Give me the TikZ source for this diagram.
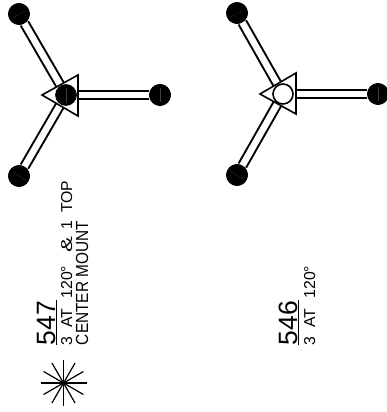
\documentclass[tikz,border=0pt]{standalone}
\usepackage{fontspec}
\setmainfont{Liberation Sans}
\newfontface\condfont[FakeStretch=0.88]{Liberation Sans}
\usetikzlibrary{calc}
\newcommand{\gapw}[1]{\hspace{#1pt}}
\begin{document}
\begin{tikzpicture}[x=1pt,y=-1pt,
  ball/.style={circle,fill=black,draw=black,line width=0.6pt,minimum size=21pt,inner sep=0pt},
  openball/.style={circle,fill=white,draw=black,line width=1.6pt,minimum size=20pt,inner sep=0pt},
  arm/.style={draw=black,line width=2pt,double=white,double distance=6.5pt},
  tri/.style={draw=black,fill=white,line width=1.6pt,line join=miter},
  seam/.style={draw=white!25!black,line width=0.2pt},
  rtext/.style={rotate=90,anchor=base west,inner sep=0pt,outer sep=0pt,text=black},
  bigtext/.style={rtext,font=\fontsize{26.5}{26.5}\selectfont},
  smalltext/.style={rtext,font=\fontsize{15.8}{16}\selectfont},
  condtext/.style={rtext,font=\condfont\fontsize{17.5}{18}\selectfont},
  rule/.style={draw=black,line width=1.3pt},
  spoke/.style={draw=black,line width=1.2pt}]
\useasboundingbox (0,0) rectangle (387,412);
% left assembly
\coordinate (hubA) at (66,95);
\node[ball] (a1) at (19,14) {};
\node[ball] (a2) at (160,95) {};
\node[ball] (a3) at (19,176) {};
\draw[arm] (hubA) -- (a1);
\draw[arm] (hubA) -- (a2);
\draw[arm] (hubA) -- (a3);
\node[ball] at (a1) {};
\node[ball] at (a2) {};
\node[ball] at (a3) {};
\draw[tri] (42,95) -- (78,75) -- (78,116) -- cycle;
\node[ball] (a0) at (hubA) {};
\draw[seam] (66,88) -- (66,103);
\draw[seam] (160,88) -- (160,102);
\draw[seam] (13,18) -- (25,11);
\draw[seam] (13,172) -- (25,180);
% right assembly
\coordinate (hubB) at (283,94);
\node[ball] (b1) at (237,13) {};
\node[ball] (b2) at (378,94) {};
\node[ball] (b3) at (237,175) {};
\draw[arm] (hubB) -- (b1);
\draw[arm] (hubB) -- (b2);
\draw[arm] (hubB) -- (b3);
\node[ball] at (b1) {};
\node[ball] at (b2) {};
\node[ball] at (b3) {};
\draw[tri] (260,94) -- (296,73) -- (296,114) -- cycle;
\node[openball] (b0) at (hubB) {};
\draw[seam] (378,87) -- (378,101);
\draw[seam] (231,17) -- (243,10);
\draw[seam] (231,171) -- (243,179);
% left labels
\node[bigtext] (t547) at (55,345) {547};
\coordinate (r1a) at (56.5,345);
\coordinate (r1b) at (56.5,300);
\draw[rule] (r1a) -- (r1b);
\node[smalltext] (t3at) at (72,345) {3\gapw{4} AT\gapw{6} 120°\gapw{9} \scalebox{1.5}[1]{\&}\gapw{3} 1\gapw{3} TOP};
\node[condtext] (tcm) at (88,345) {CENTER MOUNT};
% right labels
\node[bigtext] (t546) at (297,345) {546};
\coordinate (r2a) at (298.5,345);
\coordinate (r2b) at (298.5,300);
\draw[rule] (r2a) -- (r2b);
\node[smalltext] (t3b) at (315,345) {3\gapw{4} AT\gapw{6} 120°};
% star
\coordinate (sc) at (63.5,383);
\foreach \a in {0,30,...,150}{
  \draw[spoke] ($(sc)+(\a:23)$) -- ($(sc)+(\a+180:23)$);
}
\end{tikzpicture}
\end{document}
